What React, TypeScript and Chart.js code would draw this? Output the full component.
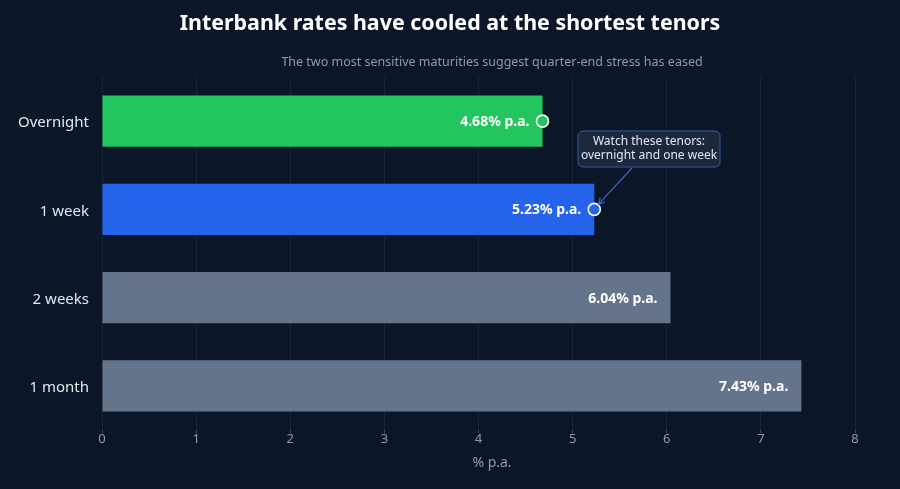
import React, { useEffect, useRef } from "react";
import { Chart, registerables } from "chart.js";

Chart.register(...registerables);

const tenors = ["Overnight", "1 week", "2 weeks", "1 month"];
const rates = [4.68, 5.23, 6.04, 7.43];
const barColors = ["#22c55e", "#2563eb", "#64748b", "#64748b"];
const highlighted = [true, true, false, false];
const xTicks = [0, 1, 2, 3, 4, 5, 6, 7, 8];

const titleText = "Interbank rates have cooled at the shortest tenors";
const subtitleText = "The two most sensitive maturities suggest quarter-end stress has eased";
const calloutLines = ["Watch these tenors:", "overnight and one week"];
const axisTitle = "% p.a.";

const BG = "#0b1628";
const FONT = "'Noto Sans', 'Open Sans', sans-serif";

const overlayPlugin = {
  id: "overlay",
  beforeDraw(chart: any) {
    const { ctx, width, height } = chart;
    ctx.save();
    ctx.fillStyle = BG;
    ctx.fillRect(0, 0, width, height);
    ctx.restore();
  },
  afterDraw(chart: any) {
    const { ctx } = chart;
    const meta = chart.getDatasetMeta(0);
    ctx.save();

    // headings
    ctx.textBaseline = "middle";
    ctx.textAlign = "center";
    ctx.fillStyle = "#ffffff";
    ctx.font = `bold 21.4px ${FONT}`;
    ctx.fillText(titleText, 450, 24);
    ctx.fillStyle = "#8e9ab0";
    ctx.font = `12.5px ${FONT}`;
    ctx.fillText(subtitleText, 492, 62);

    // x axis title
    ctx.font = `14px ${FONT}`;
    ctx.fillText(axisTitle, 492, 463);

    // value labels and end markers
    meta.data.forEach((bar: any, i: number) => {
      ctx.font = `bold 14px ${FONT}`;
      ctx.fillStyle = "#ffffff";
      ctx.textAlign = "right";
      ctx.textBaseline = "middle";
      ctx.fillText(`${rates[i].toFixed(2)}% p.a.`, bar.x - 13, bar.y + 1);
      if (highlighted[i]) {
        ctx.beginPath();
        ctx.arc(bar.x, bar.y, 6, 0, Math.PI * 2);
        ctx.fillStyle = barColors[i];
        ctx.fill();
        ctx.lineWidth = 1.6;
        ctx.strokeStyle = "#ffffff";
        ctx.stroke();
      }
    });

    // callout pointing at the 1 week marker
    const target = meta.data[1];
    const bx = 578, by = 131, bw = 142, bh = 36;
    ctx.beginPath();
    ctx.roundRect(bx, by, bw, bh, 5);
    ctx.fillStyle = "#1c283c";
    ctx.fill();
    ctx.lineWidth = 1;
    ctx.strokeStyle = "#3557a6";
    ctx.stroke();
    ctx.fillStyle = "#e2e8f0";
    ctx.font = `12px ${FONT}`;
    ctx.textAlign = "center";
    ctx.fillText(calloutLines[0], bx + bw / 2, by + 11);
    ctx.fillText(calloutLines[1], bx + bw / 2, by + 25);

    const sx = 632, sy = by + bh + 1;
    const ex = target.x + 4, ey = target.y - 5;
    ctx.beginPath();
    ctx.moveTo(sx, sy);
    ctx.lineTo(ex, ey);
    ctx.strokeStyle = "#3b64c4";
    ctx.lineWidth = 1.2;
    ctx.stroke();
    const ang = Math.atan2(ey - sy, ex - sx);
    ctx.beginPath();
    ctx.moveTo(ex, ey);
    ctx.lineTo(ex - 7 * Math.cos(ang - 0.45), ey - 7 * Math.sin(ang - 0.45));
    ctx.moveTo(ex, ey);
    ctx.lineTo(ex - 7 * Math.cos(ang + 0.45), ey - 7 * Math.sin(ang + 0.45));
    ctx.stroke();

    ctx.restore();
  },
};

export default function App() {
  const canvasRef = useRef<HTMLCanvasElement | null>(null);

  useEffect(() => {
    if (!canvasRef.current) return;
    const chart = new Chart(canvasRef.current, {
      type: "bar",
      data: {
        labels: tenors,
        datasets: [
          {
            data: rates,
            backgroundColor: barColors,
            borderWidth: 0,
            categoryPercentage: 1,
            barPercentage: 0.58,
          },
        ],
      },
      options: {
        indexAxis: "y",
        animation: false,
        responsive: true,
        maintainAspectRatio: false,
        layout: { padding: { top: 77, right: 45, left: 0, bottom: 0 } },
        plugins: {
          legend: { display: false },
          title: { display: false },
          tooltip: { enabled: false },
        },
        scales: {
          x: {
            min: 0,
            max: 8,
            afterBuildTicks: (scale: any) => {
              scale.ticks = xTicks.map((v) => ({ value: v }));
            },
            afterFit: (scale: any) => {
              scale.height = 59;
            },
            grid: {
              color: "rgba(148,163,184,0.1)",
              drawTicks: true,
              tickLength: 3,
              tickColor: "rgba(148,163,184,0.35)",
            },
            border: { display: false },
            ticks: {
              color: "#8e9ab0",
              font: { family: FONT, size: 13 },
              padding: -2,
            },
          },
          y: {
            afterFit: (scale: any) => {
              scale.width = 102;
            },
            grid: { display: false },
            border: { display: false },
            ticks: {
              color: "#e2e8f0",
              font: { family: FONT, size: 15 },
              padding: 5,
              labelOffset: 2,
            },
          },
        },
      },
      plugins: [overlayPlugin],
    });
    return () => chart.destroy();
  }, []);

  return (
    <div style={{ position: "fixed", left: 0, top: 0, width: 900, height: 489, background: BG }}>
      <canvas ref={canvasRef} />
    </div>
  );
}
